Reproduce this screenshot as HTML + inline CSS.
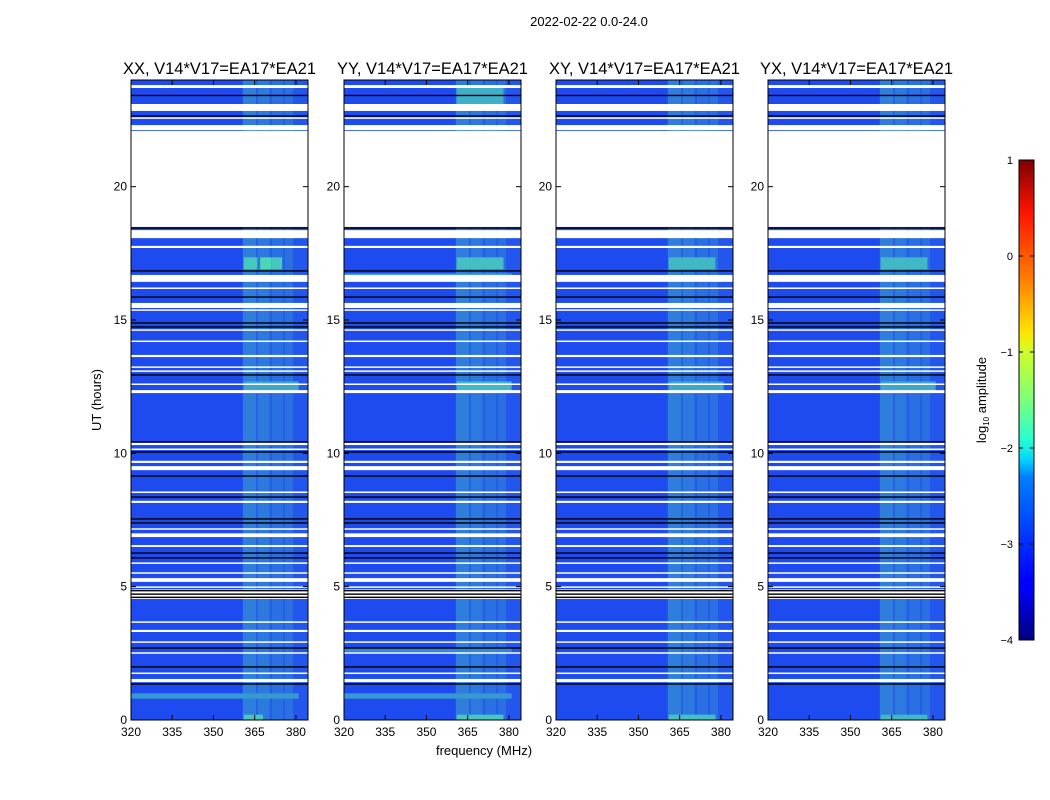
<!DOCTYPE html>
<html><head><meta charset="utf-8">
<style>
html,body{margin:0;padding:0;background:#fff;}
svg{display:block;font-family:"Liberation Sans",sans-serif;}
</style></head>
<body>
<svg id="chart" width="1050" height="800" viewBox="0 0 1050 800" xmlns="http://www.w3.org/2000/svg">
<defs>
<linearGradient id="jet" x1="0" y1="1" x2="0" y2="0">
<stop offset="0" stop-color="#00007f"/>
<stop offset="0.11" stop-color="#0000ff"/>
<stop offset="0.125" stop-color="#0000ff"/>
<stop offset="0.34" stop-color="#0080ff"/>
<stop offset="0.375" stop-color="#00d4ff"/>
<stop offset="0.42" stop-color="#29ffce"/>
<stop offset="0.5" stop-color="#7dff7a"/>
<stop offset="0.6" stop-color="#ceff29"/>
<stop offset="0.64" stop-color="#ffe600"/>
<stop offset="0.75" stop-color="#ff8000"/>
<stop offset="0.89" stop-color="#ff1400"/>
<stop offset="1" stop-color="#7f0000"/>
</linearGradient>
</defs>
<text x="589" y="26" font-size="13" text-anchor="middle">2022-02-22 0.0-24.0</text>
<text x="484" y="755" font-size="13" text-anchor="middle">frequency (MHz)</text>
<text x="101" y="400" font-size="13" text-anchor="middle" transform="rotate(-90 101 400)">UT (hours)</text>
<g id="panels"></g>
<g>
<rect x="1019" y="160" width="15" height="480" fill="url(#jet)" stroke="#000" stroke-width="1"/>
<g id="cbticks"></g>
<text x="986" y="400" font-size="13" text-anchor="middle" transform="rotate(-90 986 400)">log<tspan font-size="8" dy="3">10</tspan><tspan dy="-3"> amplitude</tspan></text>
</g>
</svg>
<script>
const panelTitles = ["XX, V14*V17=EA17*EA21","YY, V14*V17=EA17*EA21","XY, V14*V17=EA17*EA21","YX, V14*V17=EA17*EA21"];
const yTicks = [0,5,10,15,20];
const xTicks = [320,335,350,365,380];
const cbTicks = [1,0,-1,-2,-3,-4];
// flagged (white) time intervals, hours
const flagged = [[23.7,23.81],[22.84,23.1],[22.55,22.6],[22.12,22.31],[18.49,22.09],[18.07,18.37],[17.7,17.78],[16.43,16.69],[16.18,16.22],[15.45,15.64],[15.36,15.4],[14.6,14.65],[14.19,14.23],[13.61,13.69],[13.22,13.26],[13.07,13.11],[12.58,12.62],[12.26,12.37],[10.31,10.39],[10.14,10.18],[9.64,9.72],[9.37,9.52],[8.53,8.57],[8.14,8.22],[7.15,7.19],[6.86,7.0],[6.49,6.56],[5.87,5.91],[5.5,5.54],[5.18,5.32],[4.97,5.01],[4.54,4.9],[3.66,3.7],[3.3,3.38],[2.91,2.95],[2.5,2.54],[1.74,1.78],[1.42,1.54]];
// black (zero) time rows, hours
const blackRows = [18.45,16.84,15.86,14.89,14.74,12.94,10.43,10.05,9.15,8.36,7.54,7.39,6.26,6.08,4.6,4.72,4.85,2.7,1.99,1.35,23.42,22.65];
// bright channel bands [startMHz,endMHz,intensity 0..1]
const bands = [[360.7,365.5,0.55],[365.5,366.2,0.25],[366.2,370.5,0.5],[370.5,371.3,0.2],[371.3,375.3,0.4],[375.3,376,0.2],[376,379,0.4],[379,384.4,0.12]];
// bright time segments [startH,endH,startMHz,endMHz,intensity] per panel index
const brightSpots = [
 [[16.9,17.35,361,366,0.8],[16.9,17.35,367,371,0.9],[16.9,17.35,371,375,0.8],[0.8,1.0,320,381,0.5],[0,0.2,361,368,0.8],[12.3,12.7,361,381,0.6]],
 [[16.9,17.35,361,378,0.75],[16.6,16.75,320,381,0.5],[0.8,1.0,320,381,0.5],[2.55,2.72,320,381,0.4],[0,0.2,361,378,0.8],[22.9,23.7,361,378,0.65],[12.3,12.7,361,381,0.7]],
 [[16.9,17.35,361,378,0.7],[0,0.2,361,378,0.75],[12.3,12.7,361,381,0.6]],
 [[16.9,17.35,361,378,0.7],[0,0.2,361,378,0.7],[12.3,12.7,361,381,0.6]]
];
const panelLeft = [131,344,556,768];
const PW=177, PT=80, PB=720;
const ns="http://www.w3.org/2000/svg";
function yScale(h){return PB-(h/24)*(PB-PT);}
function xScale(f,x0){return x0+(f-320)/(384.4-320)*PW;}
// blend between base blue and bright cyan-green by intensity
function shade(v){
  const a=[30,75,240], b=[80,230,180];
  const c=a.map((x,i)=>Math.round(x+(b[i]-x)*v));
  return `rgb(${c[0]},${c[1]},${c[2]})`;
}
function mk(tag,attrs,parent){const e=document.createElementNS(ns,tag);for(const k in attrs)e.setAttribute(k,attrs[k]);parent.appendChild(e);return e;}
const root=document.getElementById('panels');
panelTitles.forEach((t,i)=>{
  const x0=panelLeft[i];
  const g=mk('g',{},root);
  
  
  const bg=mk('rect',{x:x0,y:PT,width:PW,height:PB-PT,fill:shade(0)},g);
  
  
  bands.forEach(b=>{
    const r=mk('rect',{x:xScale(b[0],x0),y:PT,width:xScale(b[1],x0)-xScale(b[0],x0),height:PB-PT,fill:shade(b[2]*0.6)},g);
    
    
  });
  brightSpots[i].forEach(s=>{
    const r=mk('rect',{x:xScale(s[2],x0),y:yScale(s[1]),width:xScale(s[3],x0)-xScale(s[2],x0),height:yScale(s[0])-yScale(s[1]),fill:shade(s[4])},g);
    
    
  });
  flagged.forEach(f=>{
    const r=mk('rect',{x:x0,y:yScale(f[1]),width:PW,height:Math.max(1.5,yScale(f[0])-yScale(f[1])),fill:'#fff'},g);
    
    
  });
  blackRows.forEach(h=>{
    const r=mk('rect',{x:x0,y:yScale(h)-0.7,width:PW,height:1.4,fill:'#000'},g);
    
    
  });
  const fr=mk('rect',{x:x0,y:PT,width:PW,height:PB-PT,fill:'none',stroke:'#000','stroke-width':1},g);
  
  
  const tt=mk('text',{x:x0+PW/2,y:74,'font-size':16.5,'text-anchor':'middle'},g);
  tt.textContent=t;
  
  
  yTicks.forEach(v=>{
    const y=yScale(v);
    mk('line',{x1:x0,x2:x0+5,y1:y,y2:y,stroke:'#000'},g);
    mk('line',{x1:x0+PW-5,x2:x0+PW,y1:y,y2:y,stroke:'#000'},g);
    const l=mk('text',{x:x0-4,y:y+4,'font-size':12,'text-anchor':'end'},g);
    l.textContent=v;
    
    
  });
  xTicks.forEach(v=>{
    const x=xScale(v,x0);
    mk('line',{x1:x,x2:x,y1:PB,y2:PB-5,stroke:'#000'},g);
    mk('line',{x1:x,x2:x,y1:PT,y2:PT+5,stroke:'#000'},g);
    const l=mk('text',{x:x,y:PB+16,'font-size':12,'text-anchor':'middle'},g);
    l.textContent=v;
    
    
  });
});
const cbg=document.getElementById('cbticks');
cbTicks.forEach(v=>{
  const y=160+(1-v)/5*480;
  mk('line',{x1:1019,x2:1023,y1:y,y2:y,stroke:'#000'},cbg);
  mk('line',{x1:1030,x2:1034,y1:y,y2:y,stroke:'#000'},cbg);
  const l=mk('text',{x:1013,y:y+4,'font-size':11,'text-anchor':'end'},cbg);
  l.textContent=v<0?'\u2212'+Math.abs(v):v;
  
  
});
</script>
</body></html>
